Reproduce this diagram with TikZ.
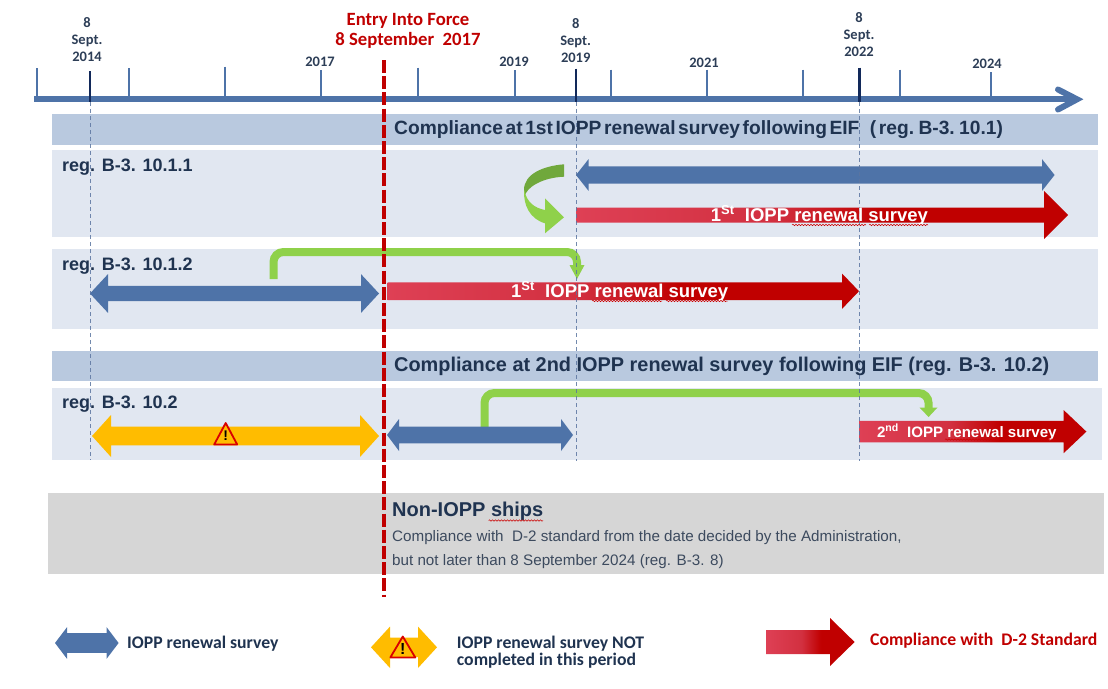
\documentclass[tikz,border=0pt]{standalone}
\usepackage{fontspec}
\setmainfont{Liberation Sans}
\newfontfamily\carl{Carlito}
\usetikzlibrary{decorations.pathmorphing}
\definecolor{axisblue}{HTML}{4E73A8}
\definecolor{tickdark}{HTML}{12295A}
\definecolor{bandblue}{HTML}{B9C9DF}
\definecolor{rowblue}{HTML}{E1E7F1}
\definecolor{greybox}{HTML}{D6D6D6}
\definecolor{eifred}{HTML}{C00000}
\definecolor{navy}{HTML}{1F3350}
\definecolor{bodygrey}{HTML}{3C4A5E}
\definecolor{amber}{HTML}{FFBC00}
\definecolor{lime}{HTML}{8FD14A}
\definecolor{darklime}{HTML}{70A83C}
\definecolor{guide}{HTML}{5B75A0}
\definecolor{redlight}{HTML}{DE4055}
\definecolor{redmid}{HTML}{D23040}
\pgfdeclarehorizontalshading{redgradb}{100bp}{color(0bp)=(redlight); color(25bp)=(redlight); color(45bp)=(redmid); color(56bp)=(eifred); color(100bp)=(eifred)}
\newcommand{\tightwords}{\spaceskip=2.6pt\relax}
% double block arrow: x1,x2,yc,shaft half,head half,head len,colour
\newcommand{\dblarrow}[7]{\fill[#7] (#1,#3) -- (#1+#6,#3-#5) -- (#1+#6,#3-#4) -- (#2-#6,#3-#4) -- (#2-#6,#3-#5) -- (#2,#3) -- (#2-#6,#3+#5) -- (#2-#6,#3+#4) -- (#1+#6,#3+#4) -- (#1+#6,#3+#5) -- cycle;}
% single block arrow: x1,x2,yc,shaft half,head half,head start
\newcommand{\redarrow}[6]{\path[shading=redgradb] (#1,#3-#4) -- (#6,#3-#4) -- (#6,#3-#5) -- (#2,#3) -- (#6,#3+#5) -- (#6,#3+#4) -- (#1,#3+#4) -- cycle;}
% warning sign: font size, centre x, top y, bottom y, half width
\newcommand{\warnsign}[5]{\draw[draw=red!85!black,fill=amber,line width=1.8pt,line join=round] (#2,#3) -- (#2+#5,#4) -- (#2-#5,#4) -- cycle; \node[inner sep=0pt,font=\bfseries\fontsize{#1}{#1}\selectfont] at (#2,#3/2+#4/2+2) {!};}
\tikzset{
  x=1pt,y=-1pt,
  axisline/.style={draw=axisblue,line width=6pt},
  tickline/.style={draw=axisblue,line width=2pt},
  tickdk/.style={draw=tickdark,line width=2.4pt},
  guideline/.style={draw=guide,line width=.7pt,dash pattern=on 4pt off 3pt,opacity=.85},
  eifline/.style={draw=eifred,line width=4pt,dash pattern=on 13pt off 3.2pt},
  date/.style={font=\carl\bfseries\fontsize{14.5}{14.5}\selectfont,text=navy!85!gray,inner sep=0pt,anchor=center},
  eiftext/.style={font=\carl\bfseries\fontsize{18.7}{18.7}\selectfont,text=eifred,inner sep=0pt},
  bandtext/.style={font=\bfseries\fontsize{19.9}{19.9}\selectfont,text=navy,inner sep=0pt,anchor=base west},
  regtext/.style={font=\bfseries\fontsize{18}{18}\selectfont,text=navy,inner sep=0pt,anchor=base west},
  whitetext/.style={font=\bfseries\fontsize{18.5}{18.5}\selectfont,text=white,inner sep=0pt,anchor=base west},
  bodytext/.style={font=\fontsize{15.2}{15.2}\selectfont,text=bodygrey,inner sep=0pt,anchor=base west},
  legendtext/.style={font=\carl\bfseries\fontsize{17.7}{17.7}\selectfont,text=navy,inner sep=0pt,anchor=base west},
  greenflow/.style={draw=lime,line width=8pt,rounded corners=10pt},
  squiggle/.style={draw=red!80!black,line width=.5pt,decorate,decoration={snake,amplitude=.7pt,segment length=3pt}},
}
\begin{document}
\begin{tikzpicture}
\useasboundingbox (0,0) rectangle (1108,688);
% panels
\fill[bandblue] (52,114) rectangle (1098,145);
\fill[rowblue] (52,150) rectangle (1098,237);
\fill[rowblue] (52,249) rectangle (1098,329);
\fill[bandblue] (52,351) rectangle (1098,381);
\fill[rowblue] (52,388) rectangle (1102,460);
\fill[greybox] (48,493) rectangle (1104,574);
% timeline
\coordinate (axs) at (34,99.3);
\coordinate (axe) at (1077,99.3);
\draw[axisline] (axs) -- (axe);
\draw[axisline,line cap=round,line join=miter] (1058,89.5) -- (axe) -- (1058,109.5);
\foreach \x/\t in {37/68,129/68,225/66.5,321/70,418/67.5,515/70,611/69.5,707/69.5,802.5/69.5,899.5/69.5,990.5/72}
  \draw[tickline] (\x,\t) -- (\x,99);
\coordinate (d14) at (90,71);
\coordinate (d19) at (576,68.5);
\coordinate (d22) at (859.5,67.5);
\coordinate (d14a) at (90,102);
\coordinate (d19a) at (576,102);
\coordinate (d22a) at (859.5,102);
\draw[tickdk] (d14) -- (90,102);
\draw[tickdk] (d19) -- (576,102);
\draw[tickdk] (d22) -- (859.5,102);
% green flows
\coordinate (g1s) at (273.5,279);
\coordinate (g1e) at (577,268);
\draw[greenflow] (g1s) |- (577,252) -- (g1e);
\fill[lime] (569.5,265) -- (584.5,265) -- (577,279) -- cycle;
\coordinate (g2s) at (484.5,427);
\coordinate (g2e) at (928.6,409);
\draw[greenflow] (g2s) |- (928.6,393) -- (g2e);
\fill[lime] (919.5,407.5) -- (937.5,407.5) -- (928.6,417) -- cycle;
% curved green arrow
\fill[darklime] (564,164.3) .. controls (543,166) and (524,174) .. (524,190) -- (524.5,197) .. controls (526,187) and (543,177.5) .. (564,176.7) -- cycle;
\fill[lime] (524.2,190) .. controls (523,205) and (530,219) .. (545,223.3) -- (545,233.3) -- (564,217.3) -- (545,198.3) -- (545,210) .. controls (535,208) and (527,203) .. (524.2,190) -- cycle;
% arrows
\dblarrow{576}{1054.6}{175}{8.7}{15.8}{12.5}{axisblue}
\redarrow{576}{1068}{215}{7.5}{24}{1044}
\dblarrow{90}{379}{293.5}{7.6}{19.4}{18}{axisblue}
\redarrow{387.5}{859}{291.2}{8.8}{17.7}{842}
\dblarrow{92}{379}{436}{9.3}{21}{19}{amber}
\dblarrow{387}{573}{435}{8.3}{16}{12}{axisblue}
\redarrow{859}{1086.4}{431.6}{10.8}{21.6}{1063.6}
\warnsign{14}{225.7}{423}{444.5}{11.5}
% guides
\draw[guideline] (d14a) -- (90,460);
\draw[guideline] (d19a) -- (576,461);
\draw[guideline] (d22a) -- (859.5,461);
% entry into force
\coordinate (eifa) at (383.5,60);
\coordinate (eifb) at (383.5,597);
\draw[eifline] (eifa) -- (eifb);
% date labels
\node[date] (n14a) at (87,23) {8};
\node[date] (n14b) at (87,41) {Sept.};
\node[date] (n14c) at (87,57) {2014};
\node[date] (n19a) at (575.7,24) {8};
\node[date] (n19b) at (575.7,42) {Sept.};
\node[date] (n19c) at (575.7,58) {2019};
\node[date] (n22a) at (859,18) {8};
\node[date] (n22b) at (859,35.5) {Sept.};
\node[date] (n22c) at (859,52) {2022};
\node[date] (y17) at (320,62) {2017};
\node[date] (y19) at (514,62) {2019};
\node[date] (y21) at (704,62.5) {2021};
\node[date] (y24) at (987,63.5) {2024};
\node[eiftext] (eif1) at (408,20.7) {Entry Into Force};
\node[eiftext] (eif2) at (408,40) {8 September\ \ 2017};
% headings
\node[bandtext,font=\bfseries\fontsize{19.2}{19.2}\selectfont] (b1) at (394,134.5) {\tightwords Compliance at 1st IOPP renewal survey following EIF\hspace{10.5pt}( reg. B-3. 10.1)};
\node[bandtext] (b2) at (394,371.5) {Compliance at 2nd IOPP renewal survey following EIF (reg. B-3. 10.2)};
\node[regtext] (r1) at (62,171) {reg. B-3. 10.1.1};
\node[regtext] (r2) at (62,270) {reg. B-3. 10.1.2};
\node[regtext] (r3) at (62,408) {reg. B-3. 10.2};
% survey labels
\node[whitetext] (s1) at (710.7,221) {1\textsuperscript{St}\ \ IOPP renewal survey};
\node[whitetext] (s2) at (511,297) {1\textsuperscript{St}\ \ IOPP renewal survey};
\node[whitetext,font=\bfseries\fontsize{15.1}{15.1}\selectfont] (s3) at (876.8,437) {2\textsuperscript{nd}\ \ IOPP renewal survey};
\draw[squiggle] (792,225) -- (866,225);
\draw[squiggle] (869,225) -- (928,225);
\draw[squiggle] (592,301) -- (662,301);
\draw[squiggle] (666,301) -- (727.5,301);
\draw[squiggle] (945,439.5) -- (1000,439.5);
\draw[squiggle] (1003,439.5) -- (1056,439.5);
% non-IOPP
\node[bandtext,font=\bfseries\fontsize{20}{20}\selectfont] (nt) at (392,516) {Non-IOPP ships};
\draw[squiggle] (488.6,520.5) -- (543,520.5);
\node[bodytext] (nb1) at (392,541) {Compliance with\ \ D-2 standard from the date decided by the Administration,};
\node[bodytext] (nb2) at (392,565) {but not later than 8 September 2024 (reg. B-3. 8)};
% legend
\dblarrow{55}{118.6}{643}{9.8}{15.8}{12}{axisblue}
\node[legendtext] (l1) at (127,648) {IOPP renewal survey};
\dblarrow{371}{437}{647.3}{9.7}{20.7}{19}{amber}
\warnsign{16}{402.8}{636.5}{657.5}{12.5}
\node[legendtext] (l2a) at (456.7,648.5) {IOPP renewal survey NOT};
\node[legendtext] (l2b) at (456.7,665.5) {completed in this period};
\redarrow{766}{854.6}{642}{12}{24}{830}
\node[legendtext,text=eifred] (l3) at (870,645.5) {Compliance with\ \ D-2 Standard};
\end{tikzpicture}
\end{document}
